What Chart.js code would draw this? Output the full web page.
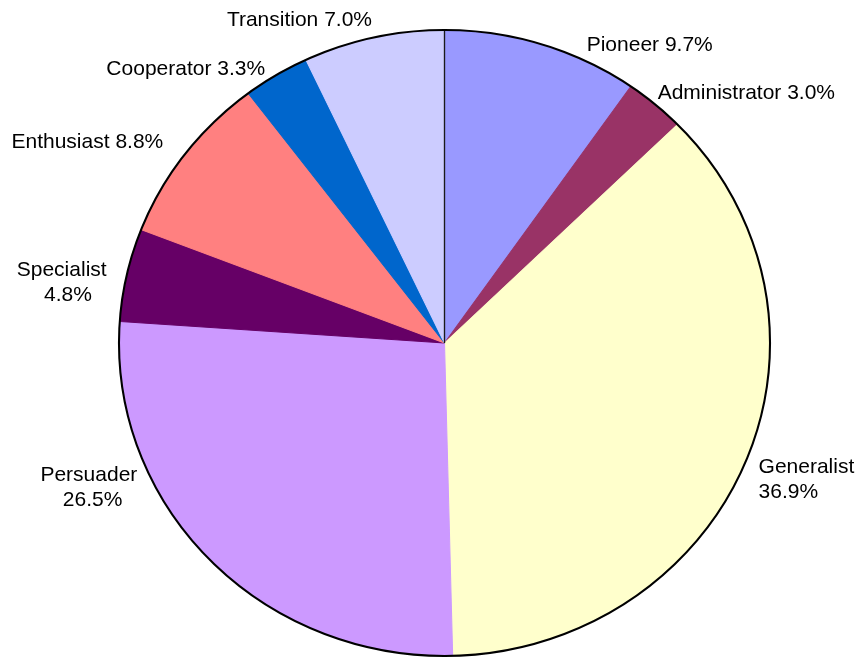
<!DOCTYPE html>
<html>
<head>
<meta charset="utf-8">
<script src="https://cdn.jsdelivr.net/npm/chart.js@4.4.1/dist/chart.umd.min.js"></script>
<style>
  html, body { margin: 0; padding: 0; background: #fff; }
</style>
</head>
<body>
<canvas id="pie" width="860" height="657"></canvas>
<script>
// team role mix, clockwise from 12 o'clock
const categories = ['Pioneer', 'Administrator', 'Generalist', 'Persuader', 'Specialist', 'Enthusiast', 'Cooperator', 'Transition'];
const shares = [9.7, 3.0, 36.9, 26.5, 4.8, 8.8, 3.3, 7.0];
const sliceColors = ['#9999FF', '#993366', '#FFFFCC', '#CC99FF', '#660066', '#FF8080', '#0066CC', '#CCCCFF'];

// Stretch the pie sideways a little so it comes out oval, then add the
// outer outline and the seam line at the start angle.
const ovalPie = {
    id: 'ovalPie',
    beforeDatasetsDraw(chart, args, opts) {
        const arc = chart.getDatasetMeta(0).data[0];
        const ctx = chart.ctx;
        ctx.save();
        ctx.translate(arc.x, arc.y);
        ctx.scale(opts.stretchX, 1);
        ctx.translate(-arc.x, -arc.y);
    },
    afterDatasetsDraw(chart, args, opts) {
        const first = chart.getDatasetMeta(0).data[0];
        const ctx = chart.ctx;
        const r = first.outerRadius;
        ctx.beginPath();
        ctx.moveTo(first.x, first.y);
        ctx.lineTo(first.x + Math.cos(first.startAngle) * r, first.y + Math.sin(first.startAngle) * r);
        ctx.lineWidth = 1.3;
        ctx.strokeStyle = '#1a1a1a';
        ctx.stroke();
        ctx.beginPath();
        ctx.arc(first.x, first.y, r + 0.5, 0, Math.PI * 2);
        ctx.lineWidth = 2;
        ctx.strokeStyle = '#000';
        ctx.stroke();
        ctx.restore();
    },
    defaults: { stretchX: 1 }
};

// Category + percentage labels around the pie. Spots are given in units of
// the pie radius, measured from the pie centre; dx2 moves the second line.
const sliceLabels = {
    id: 'sliceLabels',
    afterDraw(chart, args, opts) {
        const first = chart.getDatasetMeta(0).data[0];
        const ctx = chart.ctx;
        const r = first.outerRadius;
        ctx.save();
        ctx.font = opts.font;
        ctx.fillStyle = opts.color;
        ctx.textBaseline = 'middle';
        categories.forEach((name, i) => {
            const spot = opts.spots[i];
            const pct = shares[i].toFixed(1) + '%';
            const y = first.y + spot.dy * r;
            ctx.textAlign = spot.align;
            if (spot.split) {
                ctx.fillText(name, first.x + spot.dx * r, y);
                ctx.fillText(pct, first.x + (spot.dx2 ?? spot.dx) * r, y + opts.lineHeight);
            } else {
                ctx.fillText(name + ' ' + pct, first.x + spot.dx * r, y);
            }
        });
        ctx.restore();
    }
};

new Chart(document.getElementById('pie'), {
    type: 'pie',
    data: {
        labels: categories,
        datasets: [{
            data: shares,
            backgroundColor: sliceColors,
            borderColor: sliceColors,
            borderWidth: 1,
            hoverOffset: 0,
            clip: false
        }]
    },
    options: {
        responsive: false,
        animation: false,
        events: [],
        layout: { padding: { top: 30, bottom: 1, left: 131, right: 102 } },
        plugins: {
            legend: { display: false },
            tooltip: { enabled: false },
            ovalPie: { stretchX: 1.04 },
            sliceLabels: {
                font: '21px "Liberation Sans", Arial, sans-serif',
                color: '#000',
                lineHeight: 25,
                spots: [
                    { dx: 0.455, dy: -0.952, align: 'left' },
                    { dx: 0.682, dy: -0.799, align: 'left' },
                    { dx: 1.005, dy: 0.396, align: 'left', split: true },
                    { dx: -1.138, dx2: -1.126, dy: 0.424, align: 'center', split: true },
                    { dx: -1.225, dx2: -1.205, dy: -0.233, align: 'center', split: true },
                    { dx: -0.900, dy: -0.642, align: 'right' },
                    { dx: -0.574, dy: -0.875, align: 'right' },
                    { dx: -0.232, dy: -1.032, align: 'right' }
                ]
            }
        }
    },
    plugins: [ovalPie, sliceLabels]
});
</script>
</body>
</html>
